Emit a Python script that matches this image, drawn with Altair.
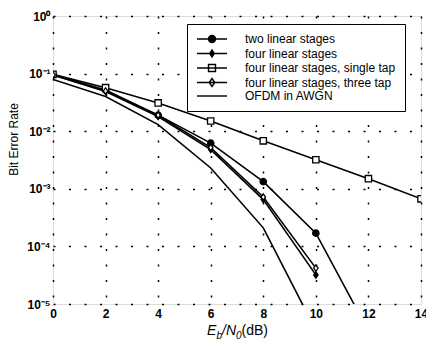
import altair as alt
import pandas as pd

# ---- data ----
snr_db = [0, 2, 4, 6, 8, 10, 12, 14]
series_names = [
    "two linear stages",
    "four linear stages",
    "four linear stages, single tap",
    "four linear stages, three tap",
    "OFDM in AWGN",
]
two_linear = [0.095, 0.052, 0.019, 0.0062, 0.00133, 1.7e-4, 3.4e-6]
four_linear = [0.095, 0.049, 0.018, 0.0048, 6.5e-4, 3.2e-5]
single_tap = [0.097, 0.057, 0.031, 0.015, 0.0068, 0.0032, 0.0015, 6.7e-4]
three_tap = [0.095, 0.05, 0.019, 0.0052, 7.2e-4, 4.2e-5]
ofdm_awgn = [0.079, 0.04, 0.013, 0.0023, 2.1e-4, 3.5e-6]
y_ticks = [1, 1e-1, 1e-2, 1e-3, 1e-4, 1e-5]
x_ticks = [0, 2, 4, 6, 8, 10, 12, 14]

all_series = [two_linear, four_linear, single_tap, three_tap, ofdm_awgn]
rows = []
for name, vals in zip(series_names, all_series):
    for x, v in zip(snr_db, vals):
        rows.append({"snr": x, "ber": v, "series": name})
df = pd.DataFrame(rows)

FONT = "Liberation Sans"

x_enc = alt.X("snr:Q", scale=alt.Scale(domain=[0, 14], nice=False),
              axis=alt.Axis(values=x_ticks, title=None, labelFontWeight="bold",
                            labelFontSize=12, labelPadding=4, labelFlush=False,
                            ticks=False, domain=False, grid=True,
                            gridDash=[2, 13.5], gridColor="black", gridWidth=1.5,
                            gridOpacity=1, labelColor="black", labelFont=FONT))
y_label_expr = ("datum.value >= 0.5 ? '10⁰' : datum.value >= 0.05 ? '10⁻¹' : "
                "datum.value >= 0.005 ? '10⁻²' : datum.value >= 0.0005 ? '10⁻³' : "
                "datum.value >= 0.00005 ? '10⁻⁴' : '10⁻⁵'")
y_enc = alt.Y("ber:Q", scale=alt.Scale(type="log", domain=[1e-5, 1], nice=False),
              axis=alt.Axis(values=y_ticks, title="Bit Error Rate", labelExpr=y_label_expr,
                            labelFontWeight="bold", labelFontSize=12, labelPadding=3,
                            labelFlush=False, ticks=False, domain=False, grid=True,
                            gridDash=[2, 13.5], gridColor="black", gridWidth=1.5,
                            gridOpacity=1, labelColor="black", labelFont=FONT,
                            titleFont=FONT, titleFontSize=12, titleFontWeight="normal",
                            titleColor="black", titleX=-33, titleY=123))

base = alt.Chart(df)

lines = base.mark_line(clip=True, color="black", strokeWidth=1.6).encode(
    x=x_enc, y=y_enc, detail="series:N")

marker_series = series_names[:4]
points = base.transform_filter(
    alt.FieldOneOfPredicate(field="series", oneOf=marker_series)
).mark_point(clip=True, filled=False, stroke="black", strokeWidth=1.3, opacity=1).encode(
    x=alt.X("snr:Q"), y=alt.Y("ber:Q"),
    shape=alt.Shape("series:N", scale=alt.Scale(
        domain=marker_series,
        range=["circle", "M0,-1L0.7,0L0,1L-0.7,0Z", "square", "M0,-1L0.7,0L0,1L-0.7,0Z"]),
        legend=None),
    fill=alt.Fill("series:N", scale=alt.Scale(
        domain=marker_series, range=["black", "black", "white", "white"]), legend=None),
    size=alt.Size("series:N", scale=alt.Scale(
        domain=marker_series, range=[40, 40, 50, 64]), legend=None),
)

legend_paths = [
    "M-3,0H3M0.7,0A0.7,0.7,0,1,1,-0.7,0A0.7,0.7,0,1,1,0.7,0Z",
    "M-3,0H3M0,-0.7L0.45,0L0,0.7L-0.45,0Z",
    "M-3,0H3M-0.7,-0.7H0.7V0.7H-0.7Z",
    "M-3,0H3M0,-0.8L0.55,0L0,0.8L-0.55,0Z",
    "M-3,0H3",
]
legend_opts = dict(title=None, orient="none", legendX=134, legendY=8,
                   symbolSize=100, symbolOffset=10, labelOffset=27,
                   labelFont=FONT, labelFontSize=12, labelColor="black",
                   strokeColor="black", fillColor="white",
                   padding=9, rowPadding=0.5, symbolStrokeWidth=1.4,
                   symbolStrokeColor="black", symbolOpacity=1, labelLimit=300)
legend_layer = base.transform_filter("datum.snr < -100").mark_point(
    filled=False, strokeWidth=1.4, opacity=1).encode(
    shape=alt.Shape("series:N", scale=alt.Scale(domain=series_names, range=legend_paths),
                    legend=alt.Legend(**legend_opts)),
    fill=alt.Fill("series:N", scale=alt.Scale(
        domain=series_names, range=["black", "black", "white", "white", "black"]),
        legend=alt.Legend(**legend_opts)),
    stroke=alt.Stroke("series:N", scale=alt.Scale(
        domain=series_names, range=["black"] * 5),
        legend=alt.Legend(**legend_opts)),
)

one = alt.Data(values=[{"a": 1}])
def piece(txt, x, y, size, style):
    return alt.Chart(one).mark_text(text=txt, font=FONT, fontSize=size, fontStyle=style,
                                    align="left", baseline="alphabetic", color="black").encode(
        x=alt.value(x), y=alt.value(y))

title_parts = [
    piece("E", 154, 319, 14, "italic"),
    piece("b", 163.5, 323, 10, "italic"),
    piece("/N", 169, 319, 14, "italic"),
    piece("0", 183, 323, 10, "italic"),
    piece("(dB)", 188.5, 319, 14, "normal"),
]

chart = alt.layer(lines, points, legend_layer, *title_parts).resolve_scale(
    shape="independent", fill="independent", size="independent", stroke="independent"
).properties(
    width=368, height=288,
    autosize=alt.AutoSizeParams(type="none"),
    padding={"left": 53, "top": 16, "right": 5, "bottom": 37},
).configure_view(stroke="black", strokeWidth=1.6).configure(background="white")

chart.save("out.html", embed_options={"renderer": "svg", "actions": False})
